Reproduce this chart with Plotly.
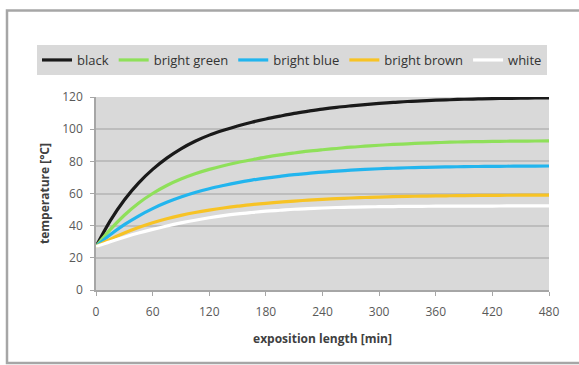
import plotly.graph_objects as go

time_min = list(range(0, 481, 15))

black = [27, 43, 56, 66.5, 75, 82, 87.8, 92.5, 96.3, 99.3, 102, 104.3, 106.3, 108.1, 109.8, 111.2, 112.5,
         113.6, 114.5, 115.3, 116, 116.6, 117.2, 117.6, 118, 118.3, 118.6, 118.8, 119, 119.15, 119.3, 119.4, 119.5]
bright_green = [27, 37.5, 46.5, 54, 60, 65, 69, 72.3, 75, 77.3, 79.3, 81, 82.6, 84, 85.2, 86.3, 87.2,
                88, 88.8, 89.4, 90, 90.5, 90.9, 91.3, 91.6, 91.9, 92.1, 92.25, 92.4, 92.5, 92.6, 92.65, 92.7]
bright_blue = [27, 34.3, 40.6, 46, 50.6, 54.5, 57.8, 60.6, 63, 65, 66.8, 68.3, 69.6, 70.7, 71.7, 72.5, 73.3,
               73.9, 74.5, 75, 75.4, 75.7, 76, 76.2, 76.4, 76.55, 76.7, 76.8, 76.9, 76.95, 77, 77.05, 77.1]
bright_brown = [27, 31.5, 35.4, 38.8, 41.8, 44.3, 46.4, 48.2, 49.7, 51, 52.1, 53.1, 53.9, 54.6, 55.3, 55.9, 56.4,
                56.8, 57.2, 57.5, 57.8, 58, 58.2, 58.35, 58.5, 58.6, 58.7, 58.78, 58.85, 58.9, 58.95, 58.98, 59]
white = [27, 30, 32.8, 35.4, 37.7, 39.8, 41.7, 43.4, 44.9, 46.2, 47.3, 48.2, 49, 49.6, 50.2, 50.6, 51,
         51.3, 51.5, 51.7, 51.8, 51.9, 52, 52.05, 52.1, 52.15, 52.2, 52.2, 52.2, 52.25, 52.25, 52.3, 52.3]

series_names = ["black", "bright green", "bright blue", "bright brown", "white"]
series_values = [black, bright_green, bright_blue, bright_brown, white]
series_colors = ["#1a1a1a", "#8fe05a", "#22b5ee", "#f7c325", "#ffffff"]

x_ticks = [0, 60, 120, 180, 240, 300, 360, 420, 480]
y_ticks = [0, 20, 40, 60, 80, 100, 120]

fig = go.Figure()
for name, vals, col in zip(series_names, series_values, series_colors):
    fig.add_trace(go.Scatter(x=time_min, y=vals, mode="lines", name=name,
                             line=dict(color=col, width=3.2, shape="spline", smoothing=1.0)))

W, H = 579, 365
ml, mr, mt, mb = 96, 30, 97, 75
pw = W - ml - mr
ph = H - mt - mb

def px_x(p):
    return (p - ml) / pw

def px_y(q):
    return (H - mb - q) / ph

fig.update_layout(
    width=W, height=H, autosize=False,
    margin=dict(l=ml, r=mr, t=mt, b=mb),
    paper_bgcolor="white",
    plot_bgcolor="#d9d9d9",
    font=dict(family="Open Sans, Liberation Sans, Arial", size=12, color="#404040"),
    showlegend=True,
    legend=dict(orientation="h", x=px_x(37), xanchor="left", y=px_y(45), yanchor="top",
                bgcolor="#d9d9d9", font=dict(size=13, color="#333333"),
                itemwidth=30, tracegroupgap=0),
    xaxis=dict(range=[0, 480], tickvals=x_ticks, showgrid=False, zeroline=False,
               showline=True, linecolor="#a6a6a6", linewidth=1.5,
               ticks="outside", ticklen=4, tickcolor="#a6a6a6", ticklabelstandoff=6,
               tickfont=dict(size=12, color="#595959"),
               title=dict(text="<b>exposition length [min]</b>", font=dict(size=12, color="#404040"), standoff=15)),
    yaxis=dict(range=[0, 120], tickvals=y_ticks, showgrid=True, gridcolor="#bdbdbd", gridwidth=2,
               zeroline=False, showline=True, linecolor="#a6a6a6", linewidth=1.5,
               ticks="outside", ticklen=4, tickcolor="#a6a6a6", ticklabelstandoff=5,
               tickfont=dict(size=12, color="#595959"),
               title=dict(text="<b>temperature [°C]</b>", font=dict(size=12, color="#404040"), standoff=10)),
    shapes=[dict(type="rect", xref="paper", yref="paper",
                 x0=px_x(7), x1=px_x(590), y0=px_y(363), y1=px_y(10.5),
                 line=dict(color="#a6a6a6", width=2.5), fillcolor="rgba(0,0,0,0)", layer="below")],
)

fig.write_html("out.html", config={"displayModeBar": False},
               post_script="document.body.style.margin='0';document.body.style.overflow='hidden';")
